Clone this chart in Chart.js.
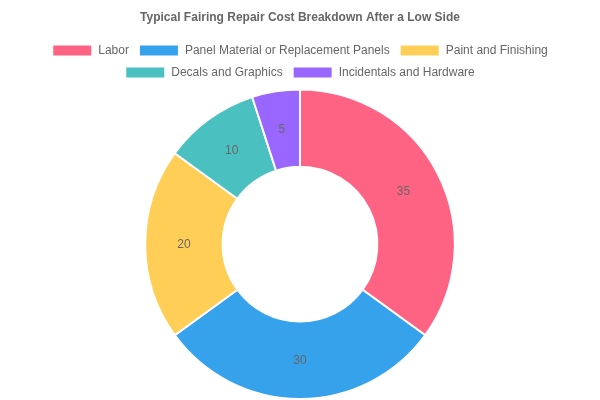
<!DOCTYPE html>
<html>
<head>
<meta charset="utf-8">
<script src="https://cdn.jsdelivr.net/npm/chart.js@4"></script>
<style>
html,body{margin:0;padding:0;background:#fff;}
#wrap{width:600px;height:400px;}
</style>
</head>
<body>
<div id="wrap"><canvas id="c"></canvas></div>
<script>
const categories = ["Labor", "Panel Material or Replacement Panels", "Paint and Finishing", "Decals and Graphics", "Incidentals and Hardware"];
const values = [35, 30, 20, 10, 5];
const colors = ["#FF6384", "#36A2EB", "#FFCE56", "#4BC0C0", "#9966FF"];
const titleText = "Typical Fairing Repair Cost Breakdown After a Low Side";

const sliceLabels = {
  id: 'sliceLabels',
  afterDatasetsDraw(chart) {
    const ctx = chart.ctx;
    const meta = chart.getDatasetMeta(0);
    ctx.save();
    ctx.font = "12px 'Helvetica Neue', Helvetica, Arial, sans-serif";
    ctx.fillStyle = "#666";
    ctx.textAlign = "center";
    ctx.textBaseline = "middle";
    meta.data.forEach((arc, i) => {
      const p = arc.tooltipPosition();
      ctx.fillText(String(chart.data.datasets[0].data[i]), p.x, p.y);
    });
    ctx.restore();
  }
};

new Chart(document.getElementById('c'), {
  type: 'doughnut',
  data: {
    labels: categories,
    datasets: [{
      data: values,
      backgroundColor: colors,
      borderColor: '#fff',
      borderWidth: 2
    }]
  },
  options: {
    responsive: true,
    maintainAspectRatio: false,
    animation: false,
    cutout: '50%',
    plugins: {
      title: {
        display: true,
        text: titleText,
        color: '#666',
        font: { size: 12, weight: 'bold' }
      },
      legend: {
        position: 'top',
        labels: { color: '#666', font: { size: 12 } }
      },
      tooltip: { enabled: false }
    }
  },
  plugins: [sliceLabels]
});
</script>
</body>
</html>
